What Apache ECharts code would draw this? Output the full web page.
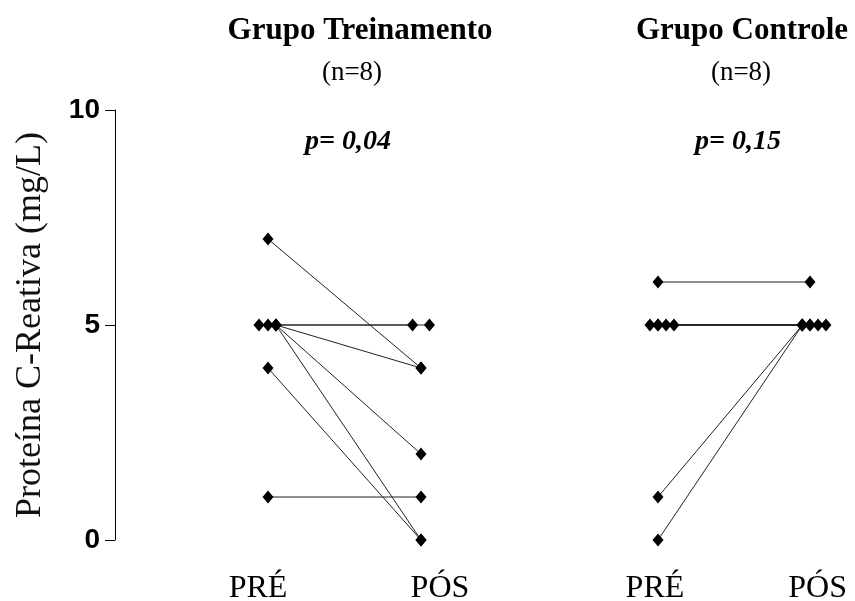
<!DOCTYPE html>
<html>
<head>
<meta charset="utf-8">
<script src="https://cdn.jsdelivr.net/npm/echarts@6/dist/echarts.min.js"></script>
<style>html,body{margin:0;padding:0;background:#fff}#c{width:855px;height:601px}</style>
</head>
<body>
<div id="c"></div>
<script>
// ---- data ----
const momentos = ['PRÉ', 'PÓS'];
const yTicks = [0, 5, 10];
const treinoPre = [7, 5, 5, 5, 5, 5, 4, 1];
const treinoPos = [4, 5, 5, 4, 2, 0, 0, 1];
const controlePre = [6, 5, 5, 5, 5, 5, 1, 0];
const controlePos = [6, 5, 5, 5, 5, 5, 5, 5];
const grupos = ['Grupo Treinamento', 'Grupo Controle'];
const nTexto = ['(n=8)', '(n=8)'];
const pTexto = ['p= 0,04', 'p= 0,15'];
const yNome = 'Proteína C-Reativa (mg/L)';

// ---- display jitter (to separate overlapping markers) ----
const treinoPreJit = [0, -0.059, 0, 0.052, 0.052, 0.052, 0, 0];
const treinoPosJit = [0, -0.055, 0.055, 0, 0, 0, 0, 0];
const controlePreJit = [0, -0.053, 0, 0.053, 0.105, 0, 0, 0];
const controlePosJit = [0, -0.053, 0, 0.053, 0.105, 0, -0.05, -0.05];

const serif = "'Liberation Serif', 'Times New Roman', serif";
const chart = echarts.init(document.getElementById('c'), null, {renderer: 'canvas'});

function buildSeries(pre, pos, preJ, posJ, axisIdx) {
  return pre.map((v, i) => ({
    type: 'line',
    xAxisIndex: axisIdx,
    yAxisIndex: axisIdx,
    data: [[0 + preJ[i], v], [1 + posJ[i], pos[i]]],
    symbol: 'diamond',
    symbolSize: [11, 13],
    showSymbol: true,
    itemStyle: {color: '#000'},
    lineStyle: {color: '#222', width: 1},
    silent: true,
    animation: false,
    clip: false,
    z: 2
  }));
}

const xLabel = (vals) => ({
  show: true,
  customValues: vals,
  formatter: (v) => (v < 0.5 ? momentos[0] : momentos[1]),
  fontFamily: serif,
  fontSize: 32,
  color: '#000',
  margin: 33
});

const option = {
  backgroundColor: '#fff',
  animation: false,
  grid: [
    {left: 115, top: 110, width: 382.5, height: 430, outerBoundsMode: 'none', containLabel: false},
    {left: 582, top: 110, width: 304, height: 430, outerBoundsMode: 'none', containLabel: false}
  ],
  xAxis: [
    {gridIndex: 0, type: 'value', min: -1, max: 1.5, axisLine: {show: false}, axisTick: {show: false}, splitLine: {show: false}, axisLabel: xLabel([-0.065, 1.124])},
    {gridIndex: 1, type: 'value', min: -0.5, max: 1.5, axisLine: {show: false}, axisTick: {show: false}, splitLine: {show: false}, axisLabel: xLabel([-0.02, 1.05])}
  ],
  yAxis: [
    {
      gridIndex: 0, type: 'value', min: yTicks[0], max: yTicks[yTicks.length - 1], interval: 5,
      name: yNome, nameLocation: 'middle', nameGap: 66,
      nameTextStyle: {fontFamily: serif, fontSize: 36, color: '#111'},
      axisLine: {show: true, onZero: false, lineStyle: {color: '#000', width: 1}},
      axisTick: {show: true, length: 10, lineStyle: {color: '#000'}},
      splitLine: {show: false},
      axisLabel: {fontFamily: "'Liberation Sans', Arial, sans-serif", fontWeight: 'bold', fontSize: 28, color: '#000', margin: 15}
    },
    {gridIndex: 1, type: 'value', min: 0, max: 10, show: false}
  ],
  graphic: [
    {type: 'text', style: {text: grupos[0], x: 360, y: 31, align: 'center', verticalAlign: 'middle', font: "bold 31px " + serif, fill: '#000'}},
    {type: 'text', style: {text: nTexto[0], x: 352, y: 73, align: 'center', verticalAlign: 'middle', font: "27px " + serif, fill: '#000'}},
    {type: 'text', style: {text: pTexto[0], x: 348, y: 142, align: 'center', verticalAlign: 'middle', font: "italic bold 28px " + serif, fill: '#000'}},
    {type: 'text', style: {text: grupos[1], x: 742, y: 31, align: 'center', verticalAlign: 'middle', font: "bold 31px " + serif, fill: '#000'}},
    {type: 'text', style: {text: nTexto[1], x: 741, y: 73, align: 'center', verticalAlign: 'middle', font: "27px " + serif, fill: '#000'}},
    {type: 'text', style: {text: pTexto[1], x: 738, y: 142, align: 'center', verticalAlign: 'middle', font: "italic bold 28px " + serif, fill: '#000'}}
  ],
  series: [].concat(
    buildSeries(treinoPre, treinoPos, treinoPreJit, treinoPosJit, 0),
    buildSeries(controlePre, controlePos, controlePreJit, controlePosJit, 1)
  )
};
chart.setOption(option);
</script>
</body>
</html>
